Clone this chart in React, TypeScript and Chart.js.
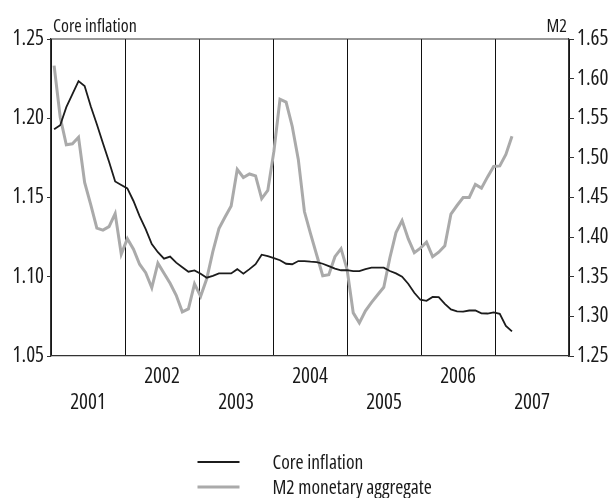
import React, { useEffect, useRef } from "react";
import { Chart, registerables } from "chart.js";

Chart.register(...registerables);

// Monthly observations, January 2001 onwards
const CORE_INFLATION = [
  1.193, 1.1956, 1.207, 1.2152, 1.2234, 1.2203, 1.2076, 1.1962, 1.1842, 1.1725,
  1.1601, 1.1579, 1.1557, 1.1478, 1.1383, 1.1301, 1.1206, 1.1155, 1.1114, 1.1127,
  1.1089, 1.106, 1.1032, 1.104, 1.1019, 1.0994, 1.1006, 1.1021, 1.1021, 1.1021,
  1.1048, 1.1019, 1.1048, 1.1079, 1.1139, 1.113, 1.1118, 1.1104, 1.1082, 1.1079,
  1.1099, 1.1099, 1.1095, 1.1092, 1.1082, 1.1067, 1.1051, 1.1041, 1.1042, 1.1036,
  1.1036, 1.1048, 1.1057, 1.1057, 1.1057, 1.1036, 1.1021, 1.1, 1.0956, 1.0899,
  1.0855, 1.0848, 1.0873, 1.0871, 1.0829, 1.0794, 1.0782, 1.078, 1.0787, 1.0787,
  1.0769, 1.0768, 1.0775, 1.0766, 1.069, 1.0655,
];

const M2_AGGREGATE = [
  1.6164, 1.5513, 1.5165, 1.5177, 1.526, 1.469, 1.4411, 1.4114, 1.4089, 1.4133,
  1.4297, 1.3785, 1.3981, 1.3848, 1.3658, 1.3551, 1.3361, 1.3671, 1.3544, 1.3418,
  1.3266, 1.3057, 1.3095, 1.3411, 1.3253, 1.3475, 1.3816, 1.4108, 1.4253, 1.4392,
  1.4854, 1.4753, 1.4797, 1.4772, 1.4487, 1.4589, 1.5082, 1.574, 1.5703, 1.5399,
  1.4981, 1.4323, 1.4044, 1.3778, 1.3513, 1.3525, 1.3753, 1.3854, 1.3589, 1.3044,
  1.2918, 1.307, 1.3177, 1.3272, 1.3367, 1.374, 1.4057, 1.4209, 1.3981, 1.3804,
  1.3861, 1.3937, 1.3753, 1.381, 1.3892, 1.4291, 1.4399, 1.45, 1.45, 1.4665,
  1.4618, 1.476, 1.4892, 1.4899, 1.5044, 1.5272,
];

const YEAR_LABELS = ["2001", "2002", "2003", "2004", "2005", "2006", "2007"];
const SERIES_LABELS = ["Core inflation", "M2 monetary aggregate"];
const LEFT_TITLE = "Core inflation";
const RIGHT_TITLE = "M2";

const LEFT_MIN = 1.05;
const LEFT_MAX = 1.25;
const RIGHT_MIN = 1.25;
const RIGHT_MAX = 1.65;
const TICK_STEP = 0.05;

const X_FIRST = 2001.042; // first monthly observation, in year units
const X_STEP = 0.0825; // spacing between monthly observations

const FAMILY = "'Open Sans', 'Roboto Condensed', sans-serif";
const STRETCH = "condensed";
const TEXT = "#1a1a1a";
const FRAME = "#333333";
const BLACK = "#1c1c1c";
const GREY = "#aaaaaa";

const toPoints = (arr: number[]) => arr.map((v, i) => ({ x: X_FIRST + i * X_STEP, y: v }));

const decor = {
  id: "decor",
  afterDraw(chart: any) {
    const { ctx, chartArea: a } = chart;
    ctx.save();
    ctx.strokeStyle = FRAME;
    ctx.lineWidth = 1.2;
    ctx.beginPath();
    ctx.moveTo(a.left, a.top);
    ctx.lineTo(a.right, a.top);
    ctx.stroke();

    ctx.fillStyle = TEXT;
    ctx.font = `${STRETCH} 18px ${FAMILY}`;
    ctx.textBaseline = "alphabetic";
    ctx.textAlign = "left";
    ctx.fillText(LEFT_TITLE, a.left + 2, a.top - 7);
    ctx.textAlign = "right";
    ctx.fillText(RIGHT_TITLE, a.right - 2, a.top - 7);

    // legend
    const cx = chart.width / 2;
    const lx = cx - 108;
    const tx = cx - 33;
    const ly = 462;
    chart.data.datasets.forEach((ds: any, k: number) => {
      const y = ly + k * 25;
      ctx.strokeStyle = ds.borderColor;
      ctx.lineWidth = ds.borderWidth;
      ctx.beginPath();
      ctx.moveTo(lx, y);
      ctx.lineTo(lx + 42, y);
      ctx.stroke();
      ctx.fillStyle = TEXT;
      ctx.font = `${STRETCH} 19.5px ${FAMILY}`;
      ctx.textAlign = "left";
      ctx.textBaseline = "middle";
      ctx.fillText(ds.label, tx, y + 1);
    });
    ctx.restore();
  },
};

export default function App() {
  const ref = useRef<HTMLCanvasElement>(null);

  useEffect(() => {
    document.body.style.margin = "0";
    const tickFont = { family: FAMILY, size: 21, weight: STRETCH as any, lineHeight: 1.25 };
    const chart = new Chart(ref.current as HTMLCanvasElement, {
      type: "line",
      data: {
        datasets: [
          {
            label: SERIES_LABELS[0],
            data: toPoints(CORE_INFLATION),
            borderColor: BLACK,
            borderWidth: 1.8,
            pointRadius: 0,
            tension: 0,
            yAxisID: "y",
          },
          {
            label: SERIES_LABELS[1],
            data: toPoints(M2_AGGREGATE),
            borderColor: GREY,
            borderWidth: 3,
            pointRadius: 0,
            tension: 0,
            yAxisID: "y2",
          },
        ],
      },
      options: {
        animation: false,
        responsive: false,
        layout: { padding: { top: 39, left: 0, right: 0, bottom: 0 } },
        plugins: {
          legend: { display: false },
          tooltip: { enabled: false },
          title: { display: false },
        },
        scales: {
          x: {
            type: "linear",
            position: "bottom",
            min: 2001,
            max: 2008,
            afterBuildTicks: (scale: any) => {
              scale.ticks = YEAR_LABELS.map((_, i) => ({ value: 2001 + i })).concat([{ value: 2008 }]);
            },
            afterFit: (scale: any) => {
              scale.height = 142;
            },
            ticks: {
              autoSkip: false,
              maxRotation: 0,
              minRotation: 0,
              labelOffset: 37,
              padding: 8,
              color: TEXT,
              font: tickFont,
              callback: (value: any) => {
                const idx = Math.round(Number(value)) - 2001;
                if (idx < 0 || idx >= YEAR_LABELS.length) return "";
                return idx % 2 === 0 ? ["", YEAR_LABELS[idx]] : [YEAR_LABELS[idx], ""];
              },
            },
            grid: {
              drawOnChartArea: true,
              drawTicks: false,
              color: "#111111",
              lineWidth: 1,
            },
            border: { display: true, color: FRAME, width: 1.2 },
          },
          y: {
            type: "linear",
            position: "left",
            min: LEFT_MIN,
            max: LEFT_MAX,
            afterFit: (scale: any) => {
              scale.width = 51;
            },
            ticks: {
              stepSize: TICK_STEP,
              padding: 3,
              color: TEXT,
              font: tickFont,
              callback: (v: any) => Number(v).toFixed(2),
            },
            grid: { drawOnChartArea: false, drawTicks: true, tickLength: 4, color: FRAME },
            border: { display: true, color: FRAME, width: 1.2 },
          },
          y2: {
            type: "linear",
            position: "right",
            min: RIGHT_MIN,
            max: RIGHT_MAX,
            afterFit: (scale: any) => {
              scale.width = 42;
            },
            ticks: {
              stepSize: TICK_STEP,
              padding: 3,
              color: TEXT,
              font: tickFont,
              callback: (v: any) => Number(v).toFixed(2),
            },
            grid: { drawOnChartArea: false, drawTicks: true, tickLength: 5, color: FRAME },
            border: { display: true, color: FRAME, width: 1.2 },
          },
        },
      },
      plugins: [decor],
    });
    return () => chart.destroy();
  }, []);

  return (
    <div style={{ width: 611, height: 498 }}>
      <canvas ref={ref} width={611} height={498} style={{ display: "block" }} />
    </div>
  );
}
